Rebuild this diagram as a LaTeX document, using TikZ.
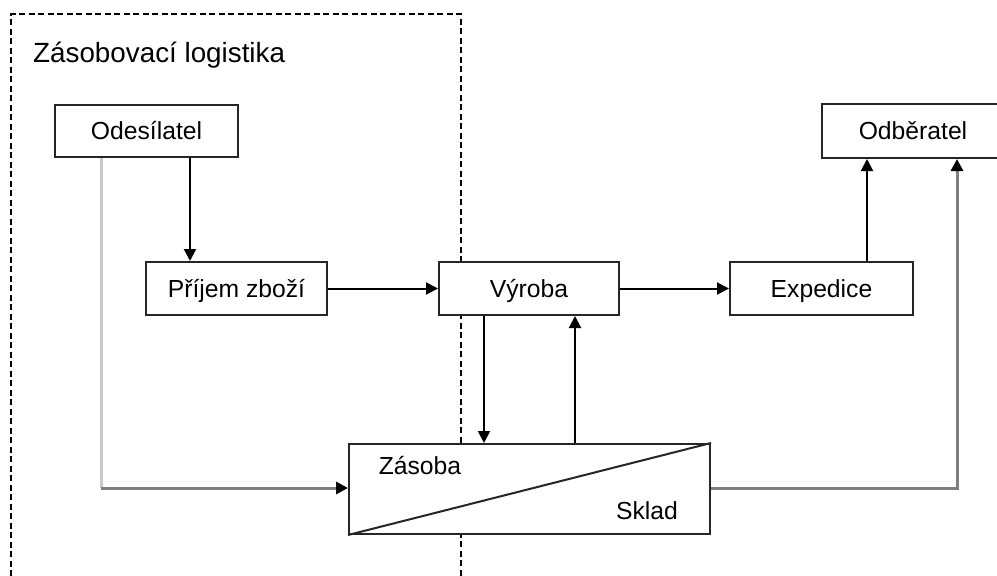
\documentclass[tikz,border=0pt]{standalone}
\usepackage{fontspec}
\setmainfont{Liberation Sans}
\usetikzlibrary{arrows.meta}

\definecolor{edge}{HTML}{262626}
\definecolor{lightline}{HTML}{C8C8C8}
\definecolor{midline}{HTML}{7F7F7F}

\begin{document}
\begin{tikzpicture}[x=1pt,y=-1pt,
  box/.style={draw=edge, line width=2, fill=white, inner sep=0pt,
    font=\fontsize{24.7}{28}\selectfont, text height=17.7pt, text depth=0pt},
  lbl/.style={inner sep=0pt, font=\fontsize{24.7}{28}\selectfont,
    text height=17.7pt, text depth=0pt},
  tip/.style={-{Triangle[length=12pt,width=12pt,color=black]}},
  arr/.style={tip, draw=black, line width=2},
  zone/.style={draw=black, line width=2, dash pattern=on 6pt off 3.5pt}]

\useasboundingbox (0,0) rectangle (997,576);

% boundary of the supply-logistics zone
\draw[zone] (11,576) -- (11,14) -- (461,14) -- (461,576);
\node[anchor=base west, inner sep=0pt, font=\fontsize{27.8}{30}\selectfont]
  (title) at (33,62) {Zásobovací logistika};

% process boxes
\node[box, minimum width=183, minimum height=52] (odes) at (146.5,131) {Odesílatel};
\node[box, minimum width=182, minimum height=54] (odb)  at (913,131)   {Odběratel};
\node[box, minimum width=181, minimum height=53] (prij) at (236.5,288.5) {Příjem zboží};
\node[box, minimum width=180, minimum height=53] (vyr)  at (529,288.5) {Výroba};
\node[box, minimum width=183, minimum height=53] (exp)  at (821.5,288.5) {Expedice};

% stock / warehouse box split by a diagonal
\node[box, minimum width=361, minimum height=90] (zs) at (529.5,489) {};
\draw[edge, line width=2] (zs.south west) -- (zs.north east);
\node[lbl] (zas) at (420,466) {Zásoba};
\node[lbl] (skl) at (647,511) {Sklad};

% column and row helpers for the connectors
\coordinate (xa) at (101,0);
\coordinate (xb) at (190,0);
\coordinate (xc) at (484,0);
\coordinate (xd) at (575,0);
\coordinate (xe) at (867,0);
\coordinate (xf) at (957,0);
\coordinate (ya) at (0,488);
\coordinate (bendL) at (xa |- ya);
\coordinate (bendR) at (xf |- ya);

% flow connectors
\draw[arr] (odes.south -| xb) -- (prij.north -| xb);
\draw[arr] (prij.east) -- (vyr.west);
\draw[arr] (vyr.east) -- (exp.west);
\draw[arr] (vyr.south -| xc) -- (zs.north -| xc);
\draw[arr] (zs.north -| xd) -- (vyr.south -| xd);
\draw[arr] (exp.north -| xe) -- (odb.south -| xe);

% direct delivery past receiving, and dispatch from the warehouse
\draw[lightline, line width=3] (odes.south -| xa) -- (bendL);
\draw[midline, line width=3, tip] (bendL) -- (zs.west |- ya);
\draw[midline, line width=3, tip] (zs.east |- ya) -- (bendR) -- (odb.south -| xf);

\end{tikzpicture}
\end{document}
